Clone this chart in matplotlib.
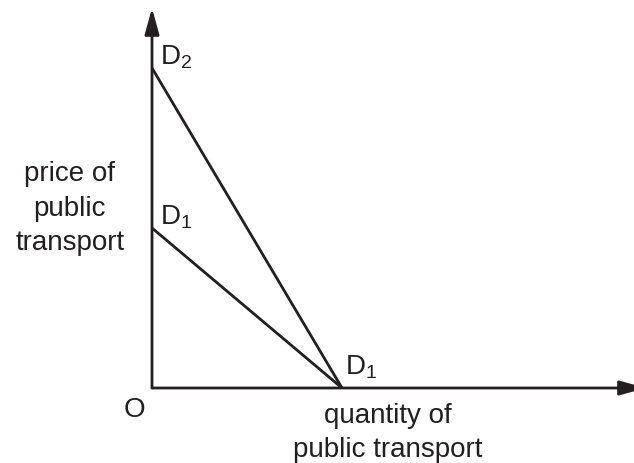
import matplotlib
matplotlib.use('Agg')
import matplotlib.pyplot as plt

plt.rcParams['font.family'] = ['Liberation Sans', 'DejaVu Sans']
plt.rcParams['mathtext.fontset'] = 'custom'
plt.rcParams['mathtext.rm'] = 'Liberation Sans'
plt.rcParams['mathtext.it'] = 'Liberation Sans'

INK = '#231f20'

# demand curves: price intercept, quantity intercept
curve_names = ['D$_{\\mathrm{2}}$', 'D$_{\\mathrm{1}}$']
price_intercepts = [8, 4]
quantity_intercepts = [5, 5]

x_max = 13.0
y_max = 9.5

fig = plt.figure(figsize=(6.34, 4.63), dpi=100)
ax = fig.add_axes([152 / 634, 75 / 463, 482 / 634, 378 / 463])
ax.set_xlim(0, 482 / 38)
ax.set_ylim(0, 378 / 40)
ax.axis('off')

# axes with arrow heads
arrow = dict(arrowstyle='-|>,head_length=0.8,head_width=0.22', mutation_scale=20,
             lw=2.0, color=INK, shrinkA=0, shrinkB=0)
ax.annotate('', xy=(0, y_max), xytext=(0, 0), arrowprops=arrow, annotation_clip=False)
ax.annotate('', xy=(x_max, 0), xytext=(0, 0), arrowprops=arrow, annotation_clip=False)

for p, q in zip(price_intercepts, quantity_intercepts):
    ax.plot([0, q], [p, 0], color=INK, lw=2.0, clip_on=False, solid_capstyle='butt')

fs = 20
for name, p in zip(curve_names, price_intercepts):
    ax.text(0.21, p + 0.08, name, fontsize=fs, color=INK, ha='left', va='baseline')
ax.text(5.08, 0.33, curve_names[1], fontsize=fs, color=INK, ha='left', va='baseline')

ax.text(-0.45, -0.72, 'O', fontsize=fs, color=INK, ha='center', va='baseline', clip_on=False)
ax.text(-2.16, 5.675, 'price of\npublic\ntransport', fontsize=fs, color=INK,
        ha='center', va='top', multialignment='center', linespacing=1.43, clip_on=False)
ax.text(6.21, -0.375, 'quantity of\npublic transport', fontsize=fs, color=INK,
        ha='center', va='top', multialignment='center', linespacing=1.38, clip_on=False)

fig.savefig('out.png', dpi=100)
